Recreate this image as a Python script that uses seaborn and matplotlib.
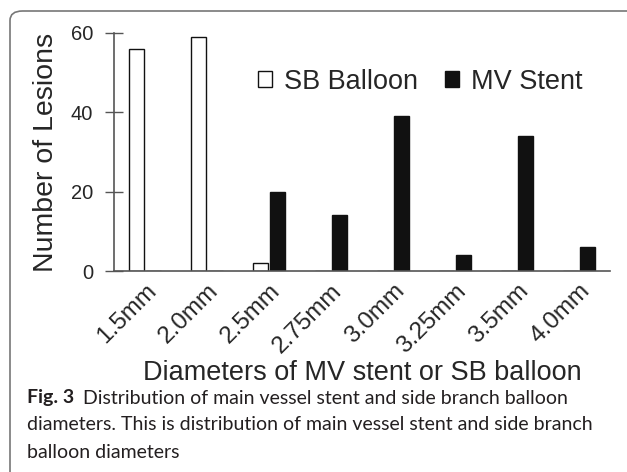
import pandas as pd
import numpy as np
import matplotlib
matplotlib.use('Agg')
import matplotlib.pyplot as plt
import seaborn as sns
from matplotlib.patches import FancyBboxPatch

# dati
diameters = ['1.5mm', '2.0mm', '2.5mm', '2.75mm', '3.0mm', '3.25mm', '3.5mm', '4.0mm']
sb_balloon = [56, 59, 2, 0, 0, 0, 0, 0]
mv_stent = [0, 0, 20, 14, 39, 4, 34, 6]
series = ['SB Balloon', 'MV Stent']
y_ticks = [0, 20, 40, 60]

df = pd.DataFrame({
    'diameter': diameters * 2,
    'count': sb_balloon + mv_stent,
    'type': [series[0]] * len(diameters) + [series[1]] * len(diameters),
})

sns.set_style('white')
plt.rcParams['font.family'] = ['Liberation Sans', 'DejaVu Sans']

fig = plt.figure(figsize=(6.27, 4.72), dpi=100)
ax = fig.add_axes([0.1818, 0.4258, 0.7911, 0.5043])

sns.barplot(data=df, x='diameter', y='count', hue='type', order=diameters,
            hue_order=series, palette={'SB Balloon': 'white', 'MV Stent': '#111111'},
            edgecolor='#111111', linewidth=1, width=0.565, gap=0.14, ax=ax)

ax.set_xlim(-0.5, len(diameters) - 0.5)
ax.set_ylim(0, 60)
ax.set_yticks(y_ticks)
sns.despine(ax=ax)
for s in ['left', 'bottom']:
    ax.spines[s].set_color('#555555')
    ax.spines[s].set_linewidth(1.2)
ax.tick_params(axis='y', left=True, direction='inout', length=13, width=1,
               color='#555555', labelsize=14.5, pad=8.5)
ax.tick_params(axis='x', bottom=False, labelsize=17.5, pad=3)
plt.setp(ax.get_xticklabels(), rotation=45, ha='right', rotation_mode='anchor')

ax.set_ylabel('Number of Lesions', fontsize=20.5, va='center')
ax.yaxis.set_label_coords(-0.137, 0.5)
ax.set_xlabel('Diameters of MV stent or SB balloon', fontsize=19.5, va='center')
ax.xaxis.set_label_coords(0.5, -0.43)

ax.legend(loc='upper left', bbox_to_anchor=(0.29, 0.85), ncol=2, frameon=False,
          fontsize=19.5, handlelength=0.52, handleheight=0.52, handletextpad=0.45,
          columnspacing=1.0, borderaxespad=0, borderpad=0)

# cornice arrotondata
frame = FancyBboxPatch((10 / 627, -0.1), 1.2, 1.1 - 11 / 472,
                       boxstyle='round,pad=0,rounding_size=0.02',
                       transform=fig.transFigure, fill=False,
                       edgecolor='#777777', linewidth=1.2, clip_on=False)
fig.patches.append(frame)

# didascalia
cap_color = '#231f20'
cap_font = ['Lato', 'DejaVu Sans']
cap_size = 14
t_bold = fig.text(27 / 627, 1 - 398 / 472, 'Fig. 3', fontsize=cap_size, fontweight='bold',
                  family=cap_font, color=cap_color, va='center', ha='left')
fig.canvas.draw()
bb = t_bold.get_window_extent()
x_after = (bb.x1 + 9) / 627
fig.text(x_after, 1 - 398 / 472,
         'Distribution of main vessel stent and side branch balloon',
         fontsize=cap_size, family=cap_font, color=cap_color, va='center', ha='left')
fig.text(27 / 627, 1 - 425 / 472,
         'diameters. This is distribution of main vessel stent and side branch',
         fontsize=cap_size, family=cap_font, color=cap_color, va='center', ha='left')
fig.text(27 / 627, 1 - 452 / 472, 'balloon diameters',
         fontsize=cap_size, family=cap_font, color=cap_color, va='center', ha='left')

fig.savefig('out.png', dpi=100)
